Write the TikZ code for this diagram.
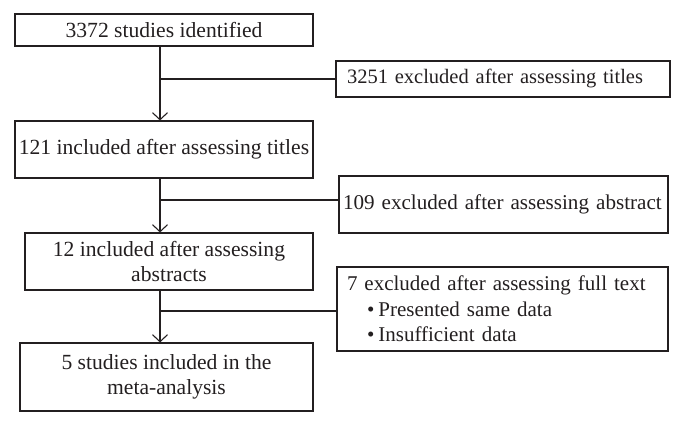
\documentclass[tikz,border=0pt]{standalone}
\usepackage{fontspec}
\setmainfont{Liberation Serif}
\usetikzlibrary{arrows.meta}
\definecolor{ink}{HTML}{231F20}
\begin{document}
\begin{tikzpicture}[x=1pt,y=1pt,
  box/.style={draw=ink,line width=1.1pt,rectangle,inner sep=0pt,text=ink,font=\fontsize{21.6}{25.5}\selectfont},
  conn/.style={draw=ink,line width=1.1pt},
  arr/.style={conn,-{Straight Barb[length=7pt,width=15pt,line width=1.1pt]}}]
\useasboundingbox (0,0) rectangle (684,425);
\coordinate (sp) at (160,0);
\node[box,minimum width=298pt,minimum height=32pt] (b1) at (164,395) {3372 studies identified};
\node[box,minimum width=334pt,minimum height=36pt,text width=312pt,align=left,font=\fontsize{20.5}{25.5}\selectfont] (b3) at (503,346) {3251 excluded after assessing titles};
\node[box,minimum width=298pt,minimum height=57pt] (b2) at (164,275.5) {121 included after assessing titles};
\node[box,minimum width=329pt,minimum height=57pt,text width=321pt,align=left,font=\fontsize{21.1}{25.5}\selectfont] (b4) at (503.5,220.5) {\mbox{109 excluded after assessing abstract}};
\node[box,minimum width=288pt,minimum height=57pt,align=center] (b5) at (169,163.5) {12 included after assessing\\abstracts};
\node[box,minimum width=331pt,minimum height=84pt,text width=311pt,align=left,font=\fontsize{21}{25.5}\selectfont] (b6) at (502.5,116) {7 excluded after assessing full text\\
\hspace*{20pt}\textbullet\hspace{4pt}Presented same data\\
\hspace*{20pt}\textbullet\hspace{4pt}Insufficient data};
\node[box,minimum width=293pt,minimum height=68pt,align=center] (b7) at (166.5,48) {5 studies included in the\\meta-analysis};
\coordinate (j4) at ([yshift=4.5pt]b4.west);
\coordinate (j6) at ([yshift=-2pt]b6.west);
\draw[arr] (b1.south -| sp) -- (b2.north -| sp);
\draw[arr] (b2.south -| sp) -- (b5.north -| sp);
\draw[arr] (b5.south -| sp) -- (b7.north -| sp);
\draw[conn] (sp |- b3.west) -- (b3.west);
\draw[conn] (sp |- j4) -- (j4);
\draw[conn] (sp |- j6) -- (j6);
\end{tikzpicture}
\end{document}
